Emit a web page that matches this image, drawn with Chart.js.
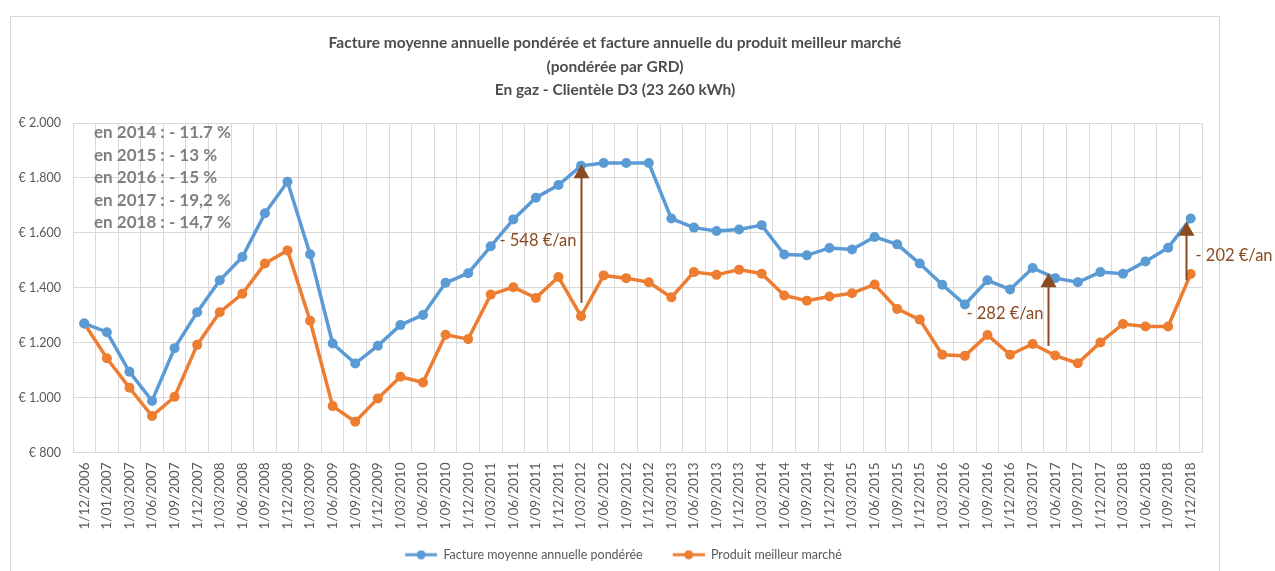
<!DOCTYPE html>
<html lang="fr">
<head>
<meta charset="utf-8">
<title>Facture moyenne annuelle pondérée - gaz D3</title>
<script src="https://cdn.jsdelivr.net/npm/chart.js@4/dist/chart.umd.min.js"></script>
<style>
  html, body { margin: 0; padding: 0; background: #fff; }
  #wrap { width: 1275px; height: 571px; }
</style>
</head>
<body>
<div id="wrap"><canvas id="gasChart" width="1275" height="571"></canvas></div>
<script>
const dates = [
  "1/12/2006", "1/01/2007", "1/03/2007", "1/06/2007", "1/09/2007", "1/12/2007",
  "1/03/2008", "1/06/2008", "1/09/2008", "1/12/2008",
  "1/03/2009", "1/06/2009", "1/09/2009", "1/12/2009",
  "1/03/2010", "1/06/2010", "1/09/2010", "1/12/2010",
  "1/03/2011", "1/06/2011", "1/09/2011", "1/12/2011",
  "1/03/2012", "1/06/2012", "1/09/2012", "1/12/2012",
  "1/03/2013", "1/06/2013", "1/09/2013", "1/12/2013",
  "1/03/2014", "1/06/2014", "1/09/2014", "1/12/2014",
  "1/03/2015", "1/06/2015", "1/09/2015", "1/12/2015",
  "1/03/2016", "1/06/2016", "1/09/2016", "1/12/2016",
  "1/03/2017", "1/06/2017", "1/09/2017", "1/12/2017",
  "1/03/2018", "1/06/2018", "1/09/2018", "1/12/2018",
];

// € per year
const averageBill = [
  1270, 1238, 1094, 988, 1180, 1311,
  1427, 1512, 1671, 1786,
  1522, 1197, 1124, 1189,
  1264, 1301, 1418, 1453,
  1551, 1649, 1728, 1774,
  1844, 1854, 1854, 1854,
  1652, 1619, 1607, 1612,
  1628, 1521, 1518, 1545,
  1539, 1585, 1558, 1488,
  1411, 1339, 1427, 1394,
  1472, 1435, 1420, 1457,
  1451, 1496, 1546, 1652,
];

const cheapestProduct = [
  1270, 1143, 1036, 933, 1003, 1192,
  1311, 1378, 1488, 1536,
  1280, 969, 912, 997,
  1076, 1055, 1229, 1213,
  1375, 1402, 1363, 1439,
  1296, 1445, 1435, 1420,
  1365, 1457, 1447, 1466,
  1451, 1372, 1353, 1368,
  1380, 1412, 1323, 1284,
  1156, 1152, 1228, 1156,
  1195, 1153, 1125, 1201,
  1268, 1259, 1259, 1450,
];

const yTicks = [800, 1000, 1200, 1400, 1600, 1800, 2000];

const gapLines = [
  "en 2014 : - 11.7 %",
  "en 2015 : - 13 %",
  "en 2016 : - 15 %",
  "en 2017 : - 19,2 %",
  "en 2018 : - 14,7 %",
];

// savings arrows: category position, base value, tip value, text
const arrowAt = [22, 42.7, 48.8];
const arrowFrom = [1345, 1188, 1427];
const arrowTo = [1850, 1453, 1640];
const arrowText = ["- 548 €/an", "- 282 €/an", "- 202 €/an"];
const arrowTextY = [1572, 1305, 1518];
const arrowTextSide = ["left", "left", "right"];

const BLUE = "#5B9BD5";
const ORANGE = "#ED7D31";
const BROWN = "#8B4A1F";
const GRID = "#D9D9D9";
const TEXT = "#595959";
const FONT = "Lato, 'Open Sans', sans-serif";

const fmtEuro = (v) => "€ " + String(v).replace(/\B(?=(\d{3})+(?!\d))/g, ".");

// line + dot marker for the legend, with blank room on its left
const MARK_GAP = 18;
const legendMark = (color) => {
  const c = document.createElement("canvas");
  c.width = MARK_GAP + 32;
  c.height = 10;
  const g = c.getContext("2d");
  g.strokeStyle = color;
  g.lineWidth = 3;
  g.beginPath();
  g.moveTo(MARK_GAP, 5);
  g.lineTo(MARK_GAP + 32, 5);
  g.stroke();
  g.fillStyle = color;
  g.beginPath();
  g.arc(MARK_GAP + 16, 5, 4.5, 0, Math.PI * 2);
  g.fill();
  return c;
};
const legendMarks = [legendMark(BLUE), legendMark(ORANGE)];

const decorations = {
  id: "decorations",
  beforeDraw(chart) {
    const ctx = chart.ctx;
    ctx.save();
    ctx.strokeStyle = GRID;
    ctx.lineWidth = 1;
    ctx.strokeRect(10.5, 16.5, 1209, 570);

    ctx.fillStyle = "#4D4D4D";
    ctx.font = "bold 15.5px " + FONT;
    ctx.textAlign = "center";
    ctx.textBaseline = "middle";
    ctx.fillText("Facture moyenne annuelle pondérée et facture annuelle du produit meilleur marché", 615, 43);
    ctx.fillText("(pondérée par GRD)", 615, 67);
    ctx.fillText("En gaz - Clientèle D3 (23 260 kWh)", 615, 90);
    ctx.restore();
  },
  afterDraw(chart) {
    const ctx = chart.ctx;
    const area = chart.chartArea;
    ctx.save();
    ctx.fillStyle = "#7F7F7F";
    ctx.font = "bold 17px " + FONT;
    ctx.textAlign = "left";
    ctx.textBaseline = "middle";
    gapLines.forEach((line, i) => {
      ctx.fillText(line, area.left + 21, area.top + 10 + i * 22.5);
    });
    ctx.restore();
  },
  afterDatasetsDraw(chart) {
    const ctx = chart.ctx;
    const x = chart.scales.x;
    const y = chart.scales.y;
    ctx.save();
    ctx.strokeStyle = BROWN;
    ctx.fillStyle = BROWN;
    ctx.font = "16.5px " + FONT;
    ctx.textBaseline = "middle";
    arrowAt.forEach((pos, i) => {
      const px = Math.round(x.getPixelForValue(pos)) + 0.5;
      const base = y.getPixelForValue(arrowFrom[i]);
      const tip = y.getPixelForValue(arrowTo[i]);
      ctx.lineWidth = 2;
      ctx.beginPath();
      ctx.moveTo(px, base);
      ctx.lineTo(px, tip + 12);
      ctx.stroke();
      ctx.beginPath();
      ctx.moveTo(px, tip);
      ctx.lineTo(px - 8, tip + 14);
      ctx.lineTo(px + 8, tip + 14);
      ctx.closePath();
      ctx.fill();
      const ty = y.getPixelForValue(arrowTextY[i]);
      if (arrowTextSide[i] === "left") {
        ctx.textAlign = "right";
        ctx.fillText(arrowText[i], px - 5, ty);
      } else {
        ctx.textAlign = "left";
        ctx.fillText(arrowText[i], px + 9, ty);
      }
    });
    ctx.restore();
  },
};

const ctx = document.getElementById("gasChart");
const gasChart = new Chart(ctx, {
  type: "line",
  data: {
    labels: dates,
    datasets: [
      {
        label: "Facture moyenne annuelle pondérée",
        data: averageBill,
        borderColor: BLUE,
        backgroundColor: BLUE,
        borderWidth: 3.5,
        pointRadius: 5,
        pointHoverRadius: 5,
        pointBorderWidth: 0,
        tension: 0,
      },
      {
        label: "Produit meilleur marché",
        data: cheapestProduct,
        borderColor: ORANGE,
        backgroundColor: ORANGE,
        borderWidth: 3.5,
        pointRadius: 5,
        pointHoverRadius: 5,
        pointBorderWidth: 0,
        tension: 0,
      },
    ],
  },
  options: {
    responsive: false,
    animation: false,
    layout: {
      padding: { top: 123, right: 46, left: 0, bottom: 0 },
    },
    scales: {
      x: {
        offset: true,
        grid: { offset: true, color: GRID, drawTicks: false },
        border: { color: GRID },
        ticks: {
          color: TEXT,
          font: { family: FONT, size: 13.5 },
          minRotation: 90,
          maxRotation: 90,
          padding: 10,
          autoSkip: false,
        },
        afterFit: (scale) => {
          scale.height = 84;
        },
      },
      y: {
        min: 800,
        max: 2000,
        afterBuildTicks: (scale) => {
          scale.ticks = yTicks.map((v) => ({ value: v }));
        },
        grid: { color: GRID, drawTicks: false },
        border: { color: GRID },
        ticks: {
          color: TEXT,
          font: { family: FONT, size: 12.5 },
          padding: 12,
          callback: (v) => fmtEuro(v),
        },
        afterFit: (scale) => {
          scale.width = 73;
        },
      },
      // empty strip on the right of the plot, keeps the legend centred under the frame
      side: {
        position: "right",
        grid: { display: false },
        border: { display: false },
        ticks: { display: false },
        afterFit: (scale) => {
          scale.width = 27;
        },
      },
    },
    plugins: {
      title: { display: false },
      tooltip: { enabled: false },
      legend: {
        position: "bottom",
        labels: {
          color: TEXT,
          font: { family: FONT, size: 12.5 },
          usePointStyle: true,
          pointStyleWidth: MARK_GAP + 32,
          boxHeight: 10,
          padding: 12,
          generateLabels: (chart) =>
            Chart.defaults.plugins.legend.labels
              .generateLabels(chart)
              .map((item, i) => ({ ...item, pointStyle: legendMarks[i] })),
        },
      },
    },
  },
  plugins: [decorations],
});
</script>
</body>
</html>
